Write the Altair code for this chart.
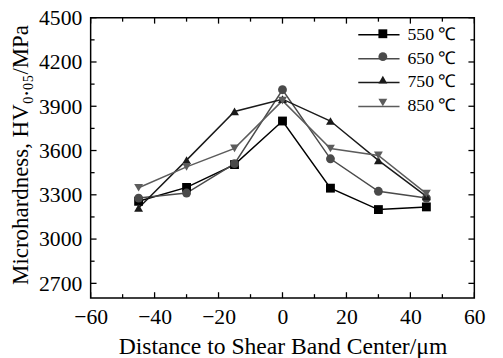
import altair as alt
import pandas as pd

distance = [-45, -30, -15, 0, 15, 30, 45]
temps = ["550 ℃", "650 ℃", "750 ℃", "850 ℃"]
s550 = [3256, 3350, 3505, 3800, 3345, 3200, 3218]
s650 = [3278, 3312, 3511, 4012, 3544, 3324, 3278]
s750 = [3211, 3535, 3865, 3948, 3800, 3533, 3289]
s850 = [3348, 3489, 3615, 3938, 3614, 3567, 3308]
series = [s550, s650, s750, s850]
colors = ["#000000", "#4a4a4a", "#1a1a1a", "#5c5c5c"]
shapes = ["square", "circle", "triangle-up", "triangle-down"]
x_major = list(range(-60, 61, 20))
x_minor = list(range(-50, 51, 20))
y_major = list(range(2700, 4501, 300))
y_minor = list(range(2850, 4400, 300))

rows = []
for t, vals in zip(temps, series):
    for d, v in zip(distance, vals):
        rows.append({"x": d, "y": v, "T": t})
df = pd.DataFrame(rows)

FONT = "Liberation Serif"
W, H = 390, 285
xs = alt.Scale(domain=[-60, 60], nice=False, zero=False)
ys = alt.Scale(domain=[2600, 4500], nice=False, zero=False)

x_axis = alt.Axis(
    orient="bottom", values=x_major, format="d", grid=False, domain=False,
    ticks=False, tickSize=0,
    labelFont=FONT, labelFontSize=22, labelColor="black", labelPadding=9,
    labelFlush=False,
    title="Distance to Shear Band Center/μm", titleFont=FONT, titleFontSize=24,
    titleFontWeight="normal", titleColor="black", titleY=56,
    titleBaseline="alphabetic",
)
y_axis = alt.Axis(
    orient="left", values=y_major, format="d", grid=False, domain=False,
    ticks=False, tickSize=0,
    labelFont=FONT, labelFontSize=22, labelColor="black", labelPadding=9,
    labelFlush=False,
    title="Microhardness, HV₀.₀₅/MPa", titleFont=FONT, titleFontSize=23.3,
    titleFontWeight="normal", titleColor="black", titleX=-71, titleY=139,
    titleBaseline="middle",
)


def x_ticks(vals, length):
    d = alt.Chart(pd.DataFrame({"x": vals})).mark_rule(color="black", strokeWidth=1.3)
    xe = alt.X("x:Q", scale=xs, axis=None)
    return [
        d.encode(x=xe, y=alt.value(H), y2=alt.value(H - length)),
        d.encode(x=xe, y=alt.value(0), y2=alt.value(length)),
    ]


def y_ticks(vals, length):
    d = alt.Chart(pd.DataFrame({"y": vals})).mark_rule(color="black", strokeWidth=1.3)
    ye = alt.Y("y:Q", scale=ys, axis=None)
    return [
        d.encode(y=ye, x=alt.value(0), x2=alt.value(length)),
        d.encode(y=ye, x=alt.value(W), x2=alt.value(W - length)),
    ]


base = alt.Chart(df)

leg_lines = alt.Legend(
    title=None, orient="none", legendX=283, legendY=7.3, padding=0,
    symbolType="M-2.33,0L2.33,0", symbolSize=324, symbolStrokeWidth=1.5,
    symbolOffset=0, labelFont=FONT, labelFontSize=18, labelColor="black",
    labelOffset=19, rowPadding=5.3, labelLimit=200,
)
leg_marks = alt.Legend(
    title=None, orient="none", legendX=283, legendY=7.3, padding=0,
    symbolSize=81, symbolStrokeWidth=0, symbolOffset=5,
    labelFont=FONT, labelFontSize=18, labelOpacity=0, labelOffset=3,
    rowPadding=5.3, labelLimit=200,
)

lines = base.mark_line(strokeWidth=1.5).encode(
    x=alt.X("x:Q", scale=xs, axis=x_axis),
    y=alt.Y("y:Q", scale=ys, axis=y_axis),
    stroke=alt.Stroke("T:N", scale=alt.Scale(domain=temps, range=colors), legend=leg_lines),
)

points = base.mark_point(filled=True, size=81, opacity=1).encode(
    x=alt.X("x:Q", scale=xs, axis=None),
    y=alt.Y("y:Q", scale=ys, axis=None),
    fill=alt.Fill("T:N", scale=alt.Scale(range=colors), legend=leg_marks),
    shape=alt.Shape("T:N", scale=alt.Scale(range=shapes), legend=leg_marks),
)

tick_layers = (x_ticks(x_major, 6) + x_ticks(x_minor, 4)
               + y_ticks(y_major, 6) + y_ticks(y_minor, 4))

chart = alt.layer(lines, points, *tick_layers).resolve_axis(
    x="independent", y="independent"
).properties(
    width=W, height=H,
    autosize=alt.AutoSizeParams(type="none"),
    padding={"left": 84, "top": 7, "right": 21, "bottom": 58},
).configure_view(stroke="black", strokeWidth=1.5)

chart.save("out.html", embed_options={"renderer": "svg", "actions": False})
